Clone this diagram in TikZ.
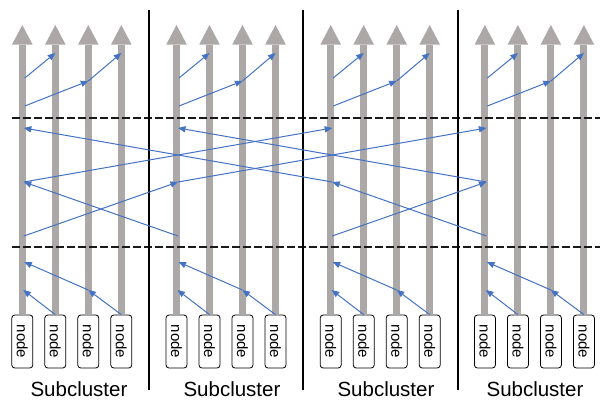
\documentclass[tikz,border=0pt]{standalone}
\usepackage{fontspec}
\setmainfont{Liberation Sans}
\usetikzlibrary{arrows.meta}
\definecolor{shaftc}{RGB}{172,168,167}
\definecolor{linkc}{RGB}{68,114,196}
\begin{document}
\begin{tikzpicture}[x=1pt,y=-1pt,
  nodebox/.style={draw=black, rounded corners=3pt, minimum width=21pt, minimum height=53pt,
    inner sep=0pt, line width=0.8pt, font=\fontsize{15}{16}\selectfont},
  colarrow/.style={draw=shaftc, line width=7pt, -{Triangle[width=20.5pt,length=19.5pt,line width=0pt]}},
  link/.style={draw=linkc, line width=1pt, -{Triangle[width=6.5pt,length=7.5pt,line width=0pt]}},
  sep/.style={draw=black, line width=2pt},
  level/.style={draw=black!90, line width=1.2pt, dash pattern=on 7.7pt off 3.3pt},
  label/.style={font=\fontsize{20.5}{24}\selectfont, anchor=base}]
\useasboundingbox (0,0) rectangle (600,400);

% columns: nodes and gray arrows
\foreach \k in {0,...,3}{
  \foreach \i in {0,...,3}{
    \pgfmathsetmacro\xx{22.3+154.2*\k+33*\i}
    \node[nodebox] (n\k\i) at (\xx,341.5) {\rotatebox{-90}{node}};
    \coordinate (t\k\i) at (\xx,25);
    \draw[colarrow] (n\k\i.north) -- (t\k\i);
  }
}

% dashed level lines
\coordinate (d1a) at (12,118); \coordinate (d1b) at (600,118);
\coordinate (d2a) at (12,247); \coordinate (d2b) at (600,247);
\draw[level] (d1a) -- (d1b);
\draw[level] (d2a) -- (d2b);

% separators
\foreach \j/\sx in {1/149,2/303.2,3/457.6}{
  \coordinate (sa\j) at (\sx,10);
  \coordinate (sb\j) at (\sx,390);
  \draw[sep] (sa\j) -- (sb\j);
}

% per-cluster coordinates and local arrows
\foreach \k in {0,...,3}{
  \pgfmathsetmacro\xa{22.3+154.2*\k}
  \pgfmathsetmacro\xb{\xa+33}
  \pgfmathsetmacro\xc{\xa+66}
  \pgfmathsetmacro\xd{\xa+99}
  \coordinate (u\k a) at (\xa+2.5,78);
  \coordinate (u\k b) at (\xb,53);
  \coordinate (v\k a) at (\xa+2.5,106);
  \coordinate (v\k c) at (\xc,81);
  \coordinate (v\k d) at (\xd,53);
  \coordinate (w\k c) at (\xc,290);
  \coordinate (w\k a) at (\xa+2,262);
  \coordinate (z\k a) at (\xa+1,290);
  \coordinate (m\k a) at (\xa+1.5,128);
  \coordinate (m\k b) at (\xa+1.5,182);
  \coordinate (m\k c) at (\xa+1.5,236);
  % broadcast (top)
  \draw[link] (u\k a) -- (u\k b);
  \draw[link] (v\k a) -- (v\k c);
  \draw[link] (v\k c) -- (v\k d);
  % reduce (bottom)
  \draw[link] (n\k3.north) -- (w\k c);
  \draw[link] (w\k c) -- (w\k a);
  \draw[link] (n\k1.north) -- (z\k a);
}

% exchange between subclusters (middle)
\draw[link] (m0c) -- (m1b);
\draw[link] (m1c) -- (m0b);
\draw[link] (m2c) -- (m3b);
\draw[link] (m3c) -- (m2b);
\draw[link] (m0b) -- (m2a);
\draw[link] (m2b) -- (m0a);
\draw[link] (m1b) -- (m3a);
\draw[link] (m3b) -- (m1a);

% labels
\foreach \k/\lx in {0/79,1/232,2/386,3/535}{
  \node[label] (s\k) at (\lx,396) {Subcluster};
}
\end{tikzpicture}
\end{document}
